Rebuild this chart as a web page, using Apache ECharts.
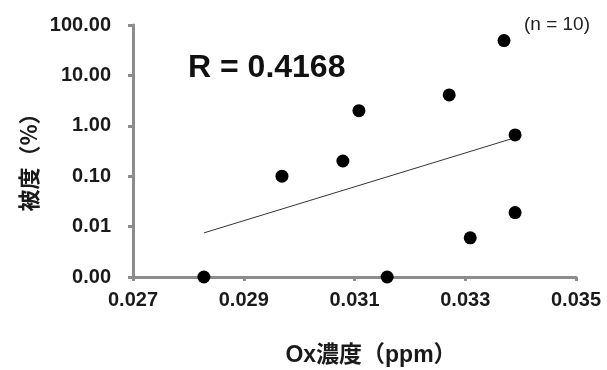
<!DOCTYPE html>
<html>
<head>
<meta charset="utf-8">
<script src="https://cdn.jsdelivr.net/npm/echarts@6/dist/echarts.min.js"></script>
<style>
  html, body { margin: 0; padding: 0; background: #fff; }
  #chart { width: 607px; height: 370px; }
</style>
</head>
<body>
<div id="chart"></div>
<script>
// Ox濃度 (ppm) vs 被度 (%), zeros drawn on the 0.001 baseline
const oxValues = [0.02828, 0.02969, 0.03079, 0.03108, 0.03159, 0.03271, 0.03309, 0.0337, 0.0339, 0.0339];
const coverValues = [0.001, 0.1, 0.2, 2.0, 0.001, 4.1, 0.006, 49, 0.66, 0.019];
// fitted line end points
const trendX = [0.02828, 0.0339];
const trendY = [0.0075, 0.58];
const xTicks = { min: 0.027, max: 0.035, interval: 0.002 };
const yRange = { min: 0.001, max: 100 };

const chart = echarts.init(document.getElementById('chart'));
const labelFont = { fontFamily: 'Liberation Sans, Arial, sans-serif', fontWeight: 'bold', fontSize: 20, color: '#1a1a1a' };
const axisGray = '#8c8c8c';

const option = {
  animation: false,
  grid: { left: 133, right: 31, top: 25, bottom: 93 },
  xAxis: {
    type: 'value',
    min: xTicks.min,
    max: xTicks.max,
    interval: xTicks.interval,
    axisLine: { lineStyle: { color: axisGray, width: 3 } },
    axisTick: { show: true, length: 4, inside: false, lineStyle: { color: axisGray, width: 3 } },
    splitLine: { show: false },
    axisLabel: Object.assign({ margin: 13, formatter: v => v.toFixed(3) }, labelFont)
  },
  yAxis: {
    type: 'log',
    logBase: 10,
    min: yRange.min,
    max: yRange.max,
    axisLine: { show: true, lineStyle: { color: axisGray, width: 3 } },
    axisTick: { show: true, length: 5, lineStyle: { color: axisGray, width: 3 } },
    splitLine: { show: false },
    minorTick: { show: false },
    axisLabel: Object.assign({ margin: 22, formatter: v => Number(v).toFixed(2) }, labelFont)
  },
  graphic: [
    {
      type: 'text', left: 188, top: 52,
      style: { text: 'R = 0.4168', font: 'bold 32px Liberation Sans, Arial, sans-serif', fill: '#111' }
    },
    {
      type: 'text', left: 524, top: 15,
      style: { text: '(n = 10)', font: '19px Liberation Sans, Arial, sans-serif', fill: '#222' }
    },
    {
      type: 'text', x: 371, y: 356,
      style: {
        text: 'Ox濃度（ppm）', align: 'center', verticalAlign: 'middle',
        font: 'bold 23px Liberation Sans, Noto Sans CJK JP, sans-serif', fill: '#1a1a1a'
      }
    },
    {
      type: 'text', x: 29, y: 157, rotation: Math.PI / 2,
      style: {
        text: '被度（%）', align: 'center', verticalAlign: 'middle',
        font: 'bold 22px Noto Sans CJK JP, sans-serif', fill: '#1a1a1a'
      }
    }
  ],
  series: [
    {
      type: 'line',
      data: trendX.map((x, i) => [x, trendY[i]]),
      symbol: 'none',
      lineStyle: { color: '#333', width: 1 },
      z: 1
    },
    {
      type: 'scatter',
      data: oxValues.map((x, i) => [x, coverValues[i]]),
      symbol: 'circle',
      symbolSize: 13,
      itemStyle: { color: '#000', opacity: 1 },
      z: 3
    }
  ]
};

chart.setOption(option);
</script>
</body>
</html>
